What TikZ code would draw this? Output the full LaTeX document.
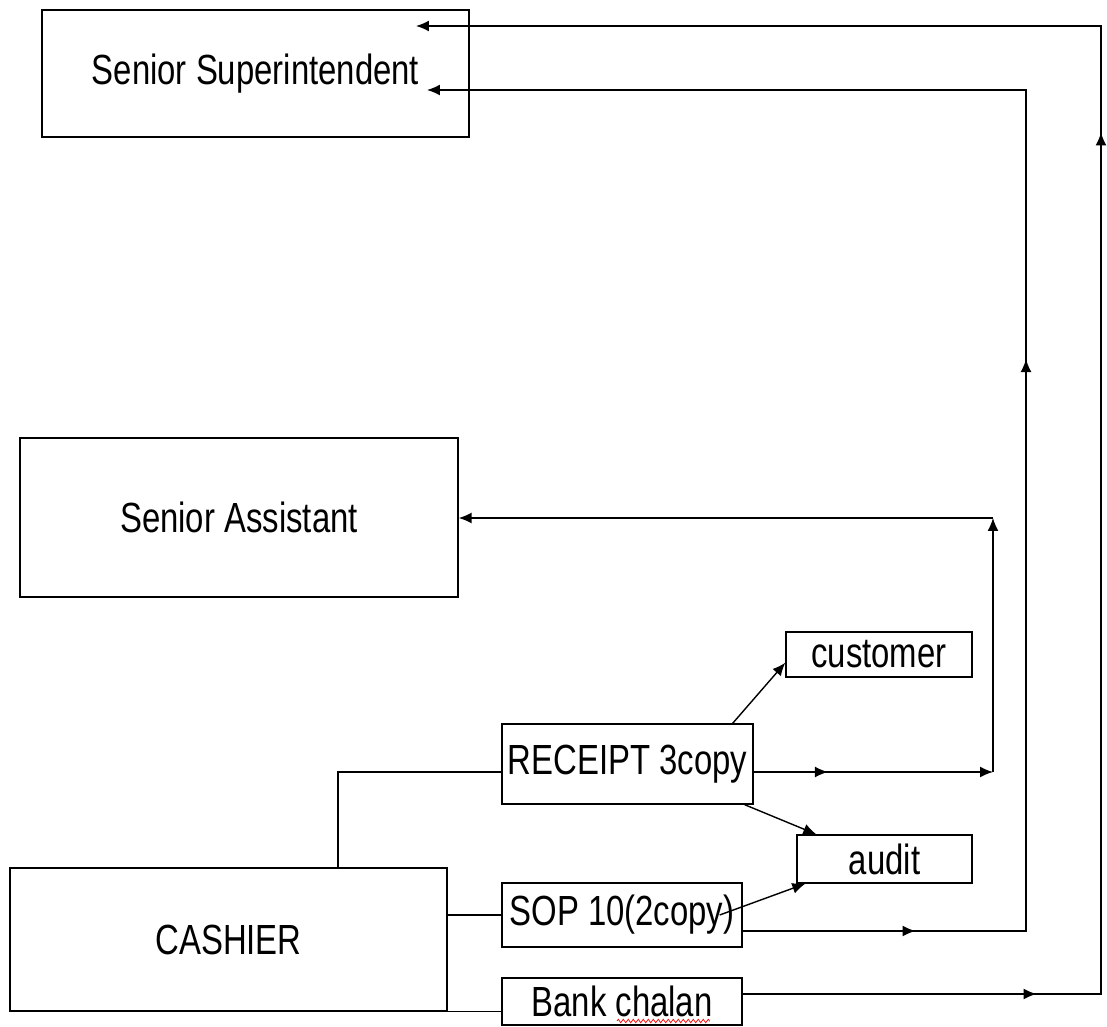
\documentclass[tikz,border=0pt]{standalone}
\usepackage{fontspec}
\setmainfont{Liberation Sans}[FakeStretch=0.78]
\usetikzlibrary{arrows.meta,decorations.markings,decorations.pathmorphing}

\begin{document}
\begin{tikzpicture}[x=0.02cm, y=-0.02cm, line width=0.8pt,
    box/.style={draw, inner sep=0pt, font=\fontsize{24}{28}\selectfont},
    arr/.style={-{Latex[length=2.6mm,width=2.2mm]}},
    midarr/.style={postaction={decorate}, decoration={markings,
      mark=at position #1 with {\arrow{Latex[length=2.6mm,width=2.2mm]}}}},
    spell/.style={red, line width=0.4pt, decorate,
      decoration={zigzag, segment length=1mm, amplitude=0.35mm}}]
    \useasboundingbox (0,0) rectangle (1107,1027);
    % boxes
    \node[box, minimum width=8.54cm, minimum height=2.54cm] (supt) at (255.5,73.5) {Senior Superintendent};
    \node[box, minimum width=8.76cm, minimum height=3.18cm] (asst) at (239,517.5) {Senior Assistant};
    \node[box, minimum width=8.74cm, minimum height=2.86cm] (cash) at (228.5,939.5) {CASHIER};
    \node[box, minimum width=5.02cm, minimum height=1.6cm] (rec) at (627.5,764) {RECEIPT 3copy};
    \node[box, minimum width=3.72cm, minimum height=0.9cm] (cust) at (879,654.5) {customer};
    \node[box, minimum width=3.5cm, minimum height=0.96cm] (aud) at (884.5,859) {audit};
    \node[box, minimum width=4.8cm, minimum height=1.28cm] (sop) at (622,915) {SOP 10(2copy)};
    \node[box, minimum width=4.8cm, minimum height=0.94cm] (bank) at (622,1001.5) {Bank chalan};
    \draw[spell] ([xshift=-0.1cm,yshift=-0.39cm]bank.center) -- ([xshift=1.76cm,yshift=-0.39cm]bank.center);

    \coordinate (k1) at (338,772);
    \coordinate (r1) at (993,772);
    \coordinate (r2) at (993,518);
    \coordinate (s1) at (1026,931);
    \coordinate (s2) at (1026,90);
    \coordinate (s3) at (427,90);
    \coordinate (b1) at (1101,994);
    \coordinate (b2) at (1101,26);
    \coordinate (b3) at (416,26);

    % from the cashier
    \draw (cash.north -| k1) -- (k1) -- (rec.west |- k1);
    \draw (cash.east |- sop.west) -- (sop.west);
    \draw (cash.south east) -- (bank.west |- cash.south east);

    % receipt copies
    \draw[arr] ([xshift=-0.42cm]rec.north east) -- ([yshift=0.3cm]cust.south west);
    \draw[arr] ([xshift=-0.18cm]rec.south east) -- ([xshift=0.4cm]aud.north west);
    \draw[arr, midarr=0.31] (rec.east |- r1) -- (r1);
    \draw[arr] (r1) -- (r2);
    \draw[arr] (r2) -- (asst.east |- r2);

    % sop copies
    \draw[arr] ([xshift=-0.46cm]sop.east) -- ([xshift=0.18cm]aud.south west);
    \draw[arr] (sop.east |- s1) -- (s1) -- (s2) -- (s3);
    \draw[midarr=0.61] (sop.east |- s1) -- (s1);
    \draw[midarr=0.68] (s1) -- (s2);

    % bank chalan
    \draw[arr] (bank.east |- b1) -- (b1) -- (b2) -- (b3);
    \draw[midarr=0.82] (bank.east |- b1) -- (b1);
    \draw[midarr=0.89] (b1) -- (b2);
\end{tikzpicture}
\end{document}
